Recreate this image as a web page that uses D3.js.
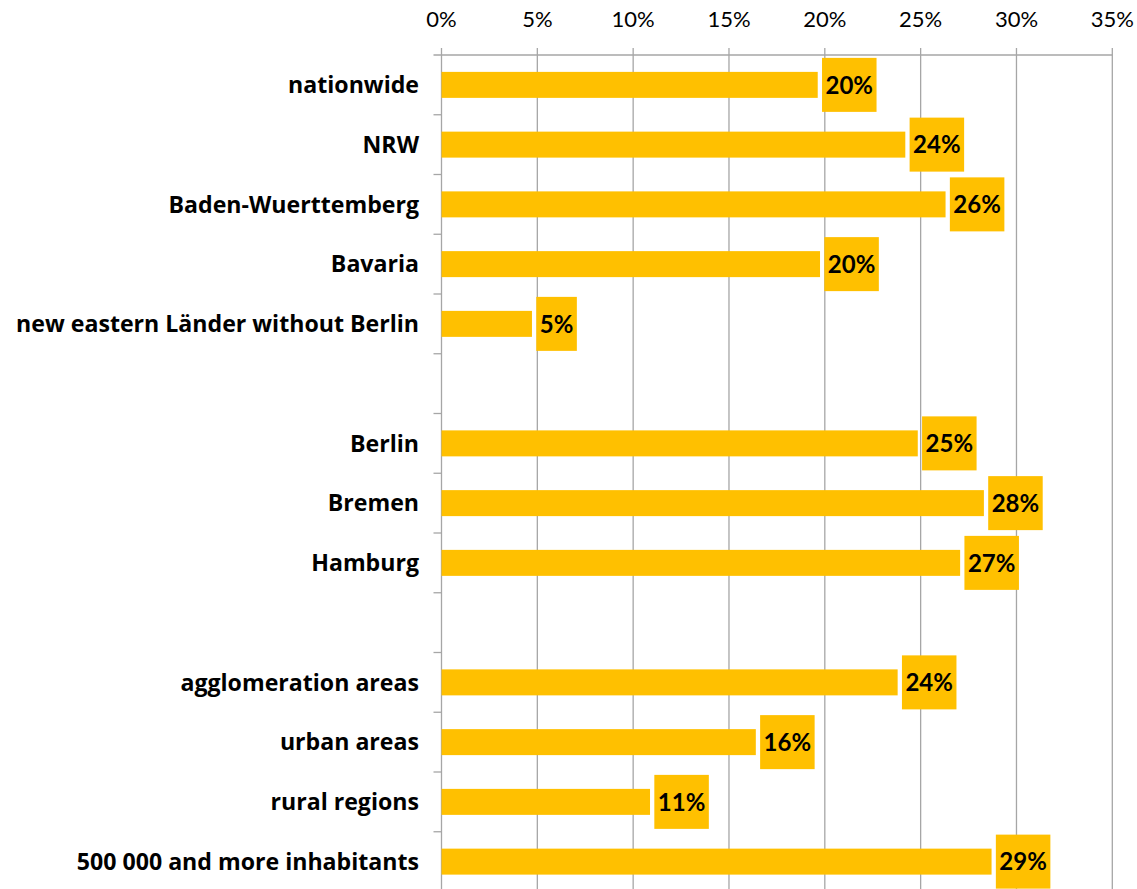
<!DOCTYPE html>
<html>
<head>
<meta charset="utf-8">
<script src="https://cdn.jsdelivr.net/npm/d3@7"></script>
<style>
  html, body { margin: 0; padding: 0; background: #fff; }
  svg { display: block; }
</style>
</head>
<body>
<svg id="chart" width="1137" height="889"></svg>
<script>
const categories = ["nationwide", "NRW", "Baden-Wuerttemberg", "Bavaria", "new eastern Länder without Berlin", "", "Berlin", "Bremen", "Hamburg", "", "agglomeration areas", "urban areas", "rural regions", "500 000 and more inhabitants"];
const values = [19.63, 24.2, 26.3, 19.75, 4.72, null, 24.85, 28.3, 27.06, null, 23.8, 16.4, 10.88, 28.7];
const valueLabels = ["20%", "24%", "26%", "20%", "5%", "", "25%", "28%", "27%", "", "24%", "16%", "11%", "29%"];
const xTicks = [0, 5, 10, 15, 20, 25, 30, 35];

(function () {
const svg = d3.select("#chart");
const mLeft = 441.5, mRight = 1112.3, mTop = 55, mBottom = 891.5;
const rows = categories.map((c, i) => ({ id: i, name: c, v: values[i], label: valueLabels[i] }));

const x = d3.scaleLinear().domain([0, 35]).range([mLeft, mRight]);
const y = d3.scaleBand().domain(rows.map(d => d.id)).range([mTop, mBottom]).paddingInner(0.565).paddingOuter(0.2825);
const yb = d3.scaleBand().domain(rows.map(d => d.id)).range([mTop, mBottom]);

// gridlines
svg.append("g").selectAll("line").data(xTicks).join("line")
  .attr("x1", d => x(d)).attr("x2", d => x(d))
  .attr("y1", mTop - 7).attr("y2", 889)
  .attr("stroke", "#a6a6a6").attr("stroke-width", 1.3);

// top axis line
svg.append("line").attr("x1", mLeft - 8).attr("x2", mRight).attr("y1", mTop).attr("y2", mTop)
  .attr("stroke", "#a6a6a6").attr("stroke-width", 1.3);

// left tick marks at band boundaries
svg.append("g").selectAll("line").data(rows.slice(1)).join("line")
  .attr("x1", mLeft - 8).attr("x2", mLeft)
  .attr("y1", d => yb(d.id)).attr("y2", d => yb(d.id))
  .attr("stroke", "#a6a6a6").attr("stroke-width", 1.3);

// x tick labels
svg.append("g").selectAll("text").data(xTicks).join("text")
  .attr("x", d => x(d)).attr("y", 27)
  .attr("text-anchor", "middle")
  .attr("font-family", "Lato, 'Open Sans', sans-serif")
  .attr("font-size", 22)
  .attr("fill", "#000")
  .text(d => d + "%");

// category labels (font size fitted so the longest label spans like the reference)
const catFont = "'Open Sans', Lato, sans-serif";
const probe = svg.append("text").attr("font-family", catFont).attr("font-weight", "bold")
  .attr("font-size", 20).text(categories[4]);
const pw = probe.node().getComputedTextLength();
probe.remove();
const catSize = Math.min(24, 20 * 403 / pw);

svg.append("g").selectAll("text").data(rows.filter(d => d.name)).join("text")
  .attr("x", 419).attr("y", d => yb(d.id) + yb.bandwidth() / 2)
  .attr("dy", "0.36em")
  .attr("text-anchor", "end")
  .attr("font-family", catFont)
  .attr("font-weight", "bold")
  .attr("font-size", catSize)
  .attr("fill", "#000")
  .text(d => d.name);

const data = rows.filter(d => d.v != null);

// bars
svg.append("g").selectAll("rect").data(data).join("rect")
  .attr("x", x(0)).attr("y", d => y(d.id))
  .attr("width", d => x(d.v) - x(0)).attr("height", y.bandwidth())
  .attr("fill", "#FFC000");

// value labels with boxes
const lg = svg.append("g").selectAll("g").data(data).join("g");
lg.each(function(d) {
  const g = d3.select(this);
  const cy = yb(d.id) + yb.bandwidth() / 2;
  const bx = x(d.v) + 4.3;
  const t = g.append("text")
    .attr("y", cy).attr("dy", "0.36em")
    .attr("font-family", "Lato, 'Open Sans', sans-serif")
    .attr("font-weight", "bold")
    .attr("font-size", 24)
    .attr("fill", "#000")
    .text(d.label);
  const w = t.node().getComputedTextLength();
  const pad = 3.5;
  g.insert("rect", "text")
    .attr("x", bx).attr("y", cy - 27)
    .attr("width", w + pad * 2).attr("height", 54)
    .attr("fill", "#FFC000");
  t.attr("x", bx + pad);
});
})();
</script>
</body>
</html>
